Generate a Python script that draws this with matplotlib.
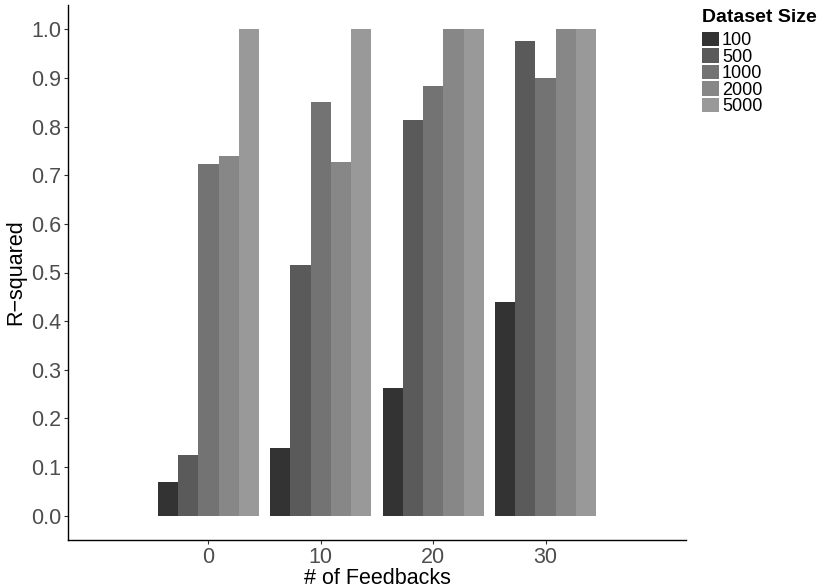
import matplotlib
matplotlib.use("Agg")
import matplotlib.pyplot as plt
import numpy as np
from matplotlib.patches import Patch

plt.rcParams['font.family'] = ['Liberation Sans', 'DejaVu Sans']

feedbacks = [0, 10, 20, 30]
sizes = ["100", "500", "1000", "2000", "5000"]
r2_100 = [0.069, 0.140, 0.262, 0.439]
r2_500 = [0.125, 0.515, 0.814, 0.977]
r2_1000 = [0.723, 0.850, 0.884, 0.900]
r2_2000 = [0.740, 0.727, 1.000, 1.000]
r2_5000 = [1.000, 1.000, 1.000, 1.000]
series = [r2_100, r2_500, r2_1000, r2_2000, r2_5000]
colors = ["#333333", "#5A5A5A", "#737373", "#878787", "#999999"]
yticks = [0.0, 0.1, 0.2, 0.3, 0.4, 0.5, 0.6, 0.7, 0.8, 0.9, 1.0]

fig = plt.figure(figsize=(8.3, 5.88), dpi=100)
ax = fig.add_axes([68/830, 1 - 540/588, (686-68)/830, (540-5)/588])

dodge = 9.0
bw = dodge / len(series)
x = np.array(feedbacks, dtype=float)
for i, (vals, c) in enumerate(zip(series, colors)):
    off = -dodge/2 + bw*(i + 0.5)
    ax.bar(x + off, vals, width=bw, color=c, linewidth=0)

ax.set_xlim(-12.5, 42.5)
ax.set_ylim(-0.05, 1.05)
ax.set_xticks(feedbacks)
ax.set_xticklabels([str(f) for f in feedbacks])
ax.set_yticks(yticks)
ax.set_yticklabels([f"{v:.1f}" for v in yticks])
ax.tick_params(axis='both', labelsize=15.5, labelcolor="#4D4D4D", color="#333333",
               length=3, width=0.8, pad=2)
for s in ["top", "right"]:
    ax.spines[s].set_visible(False)
for s in ["left", "bottom"]:
    ax.spines[s].set_color("black")
    ax.spines[s].set_linewidth(1.0)

ax.set_xlabel("# of Feedbacks", fontsize=15.5, labelpad=0)
ax.set_ylabel("R\u2212squared", fontsize=15.5, labelpad=3)

handles = [Patch(facecolor=c, edgecolor='none') for c in colors]
leg = fig.legend(handles, sizes, loc='upper left', bbox_to_anchor=(702/830, 1 - 9/588),
                 title="Dataset Size", frameon=False, fontsize=13,
                 title_fontproperties={'weight': 'bold', 'size': 14},
                 handlelength=0.95, handleheight=0.85, handletextpad=0.15,
                 labelspacing=-0.05, borderaxespad=0, borderpad=0)
leg._legend_box.align = "left"
leg._legend_box.sep = 4

fig.savefig("out.png", dpi=100)
